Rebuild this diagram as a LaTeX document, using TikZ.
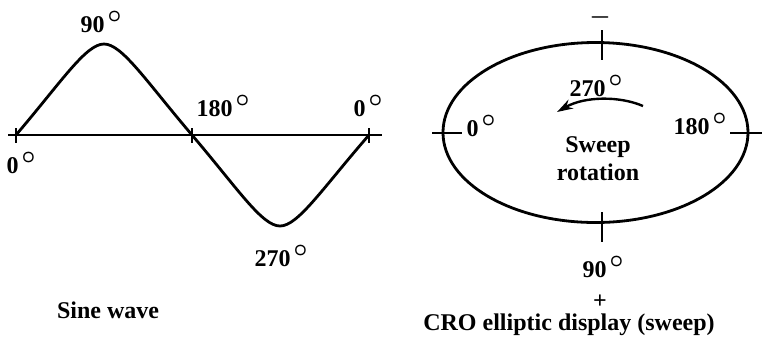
\documentclass[tikz,border=0pt]{standalone}
\usepackage{bm}
\usepackage{fontspec}
\setmainfont{Liberation Serif}
\usetikzlibrary{positioning,arrows.meta}
\newcommand{\dg}{\hspace{1.5pt}\raisebox{5.2pt}{\fontsize{12.5}{12.5}\selectfont$\bm{\circ}$}}

\begin{document}
\begin{tikzpicture}[x=0.5pt, y=-0.5pt,
    degLabel/.style={font=\fontsize{12}{14}\selectfont\bfseries, inner sep=1pt},
    captionText/.style={font=\fontsize{12}{14}\selectfont\bfseries, inner sep=1pt, align=center},
    waveLine/.style={line width=1.4pt, line join=round},
    tickMark/.style={line width=1.2pt}
]
    \useasboundingbox (0,0) rectangle (762,345);

    % Sine wave: axis, ticks and curve
    \draw[tickMark] (8,135) -- (382,135);
    \foreach \tx in {16,192,369}
        \draw[tickMark] (\tx,128) -- (\tx,143);
    \draw[waveLine] (16,135) .. controls (62,81) and (86,44) .. (104,44)
        .. controls (122,44) and (146,81) .. (192,135)
        .. controls (238,189) and (262,226) .. (280,226)
        .. controls (298,226) and (322,189) .. (369,135);

    \node[degLabel] (sinPeak) at (101,22) {90\dg};
    \node[degLabel] (sinStart) at (21,163) {0\dg};
    \node[degLabel] (sinMid) at (223,106) {180\dg};
    \node[degLabel] (sinEnd) at (368,106) {0\dg};
    \node[degLabel] (sinTrough) at (281,256) {270\dg};
    \node[captionText] (sineCap) at (108,310) {Sine wave};

    % CRO elliptic display
    \draw[waveLine] (595.5,132.5) ellipse [x radius=152.5, y radius=90];
    \draw[tickMark] (432,133) -- (462,133);
    \draw[tickMark] (730,133) -- (762,133);
    \draw[tickMark] (602,30) -- (602,60);
    \draw[tickMark] (602,212) -- (602,242);

    \node[degLabel] (croMinus) at (600,17) {$\bm{-}$};
    \node[degLabel] (croTop) at (596,86) {270\dg};
    \node[degLabel] (croLeft) at (481,126) {0\dg};
    \node[degLabel] (croRight) at (700,124) {180\dg};
    \node[degLabel] (croBottom) at (603,267) {90\dg};
    \node[degLabel] (croPlus) at (600,302) {+};
    \node[captionText] (sweepText) at (598,159) {Sweep\\rotation};
    \node[captionText] (croCap) at (569,325) {CRO elliptic display (sweep)};

    % sweep direction
    \coordinate (swStart) at (643,106);
    \coordinate (swEnd) at (557,112);
    \draw[-{Stealth[length=8pt,width=5pt]}, line width=1.2pt] (swStart) .. controls (620,96) and (585,96) .. (swEnd);
\end{tikzpicture}
\end{document}
